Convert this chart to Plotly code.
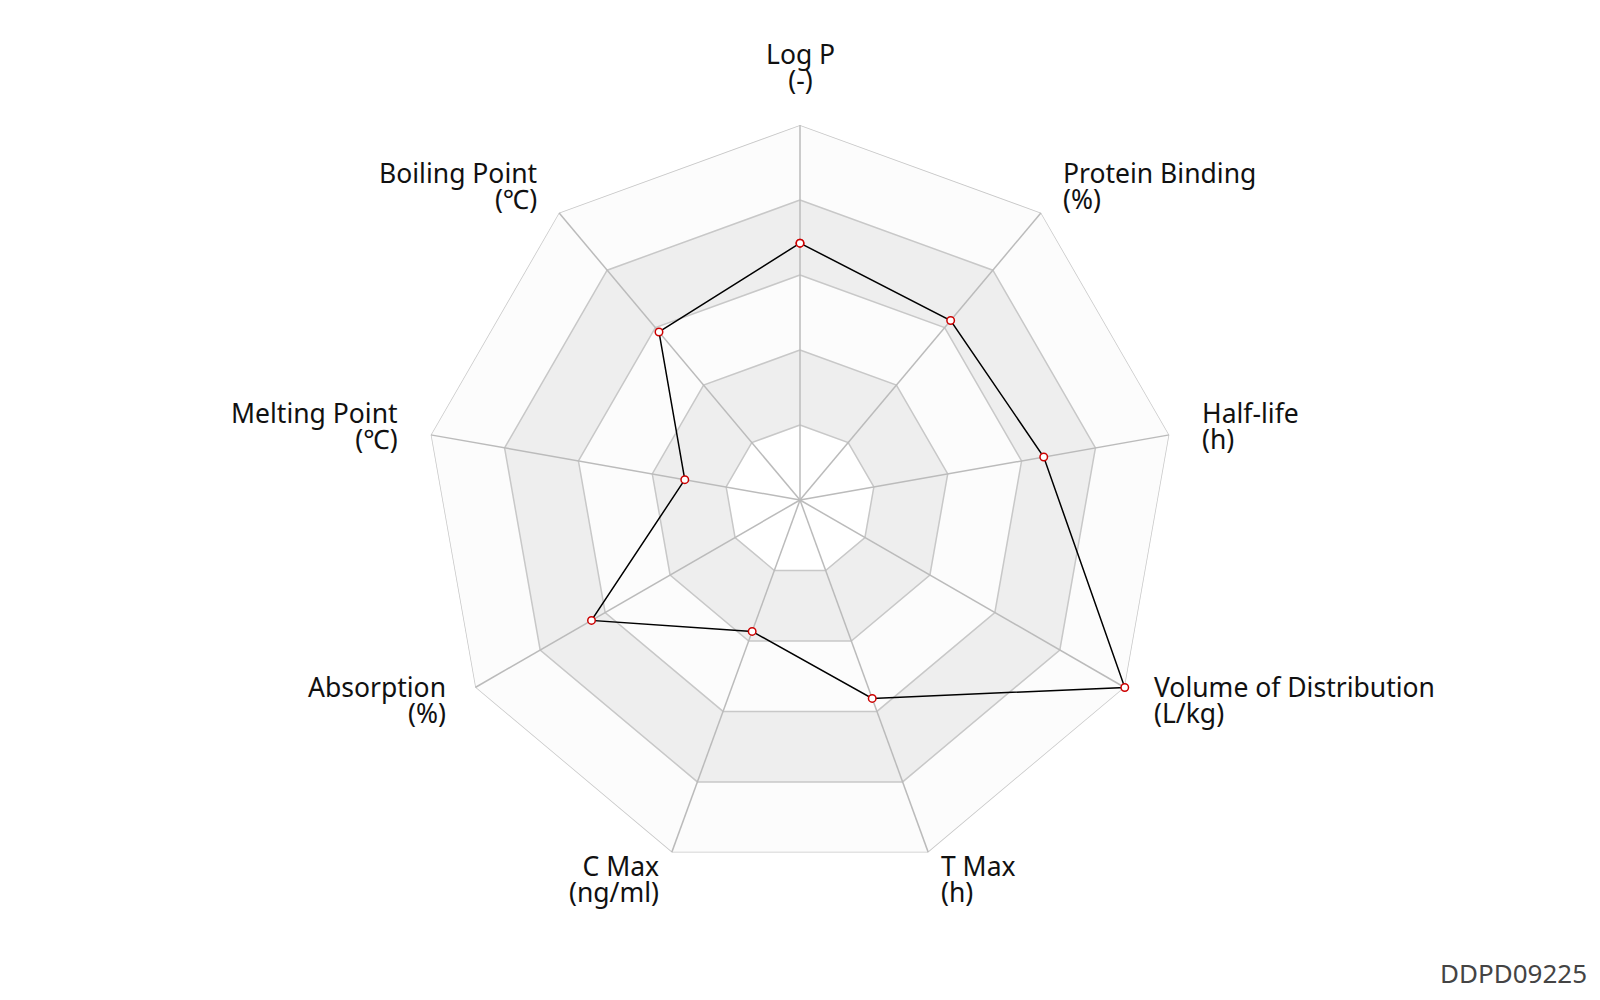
import math
import plotly.graph_objects as go

categories = ["Log P", "Protein Binding", "Half-life", "Volume of Distribution",
              "T Max", "C Max", "Absorption", "Melting Point", "Boiling Point"]
units = ["(-)", "(%)", "(h)", "(L/kg)", "(h)", "(ng/ml)", "(%)", "(℃)", "(℃)"]
values = [0.685, 0.625, 0.66, 1.0, 0.563, 0.373, 0.642, 0.312, 0.585]
ring_levels = [1.0, 0.8, 0.6, 0.4, 0.2]
band_colors = ["#fcfcfc", "#eeeeee", "#fcfcfc", "#eeeeee", "#ffffff"]
watermark = "DDPD09225"

W, H = 1600, 1000
OFF = 8  # page body margin
CX, CY, R = 800, 500, 375  # screen coordinates
FONT = "Noto Sans, Open Sans, sans-serif"


def px2paper(sx, sy):
    return (sx - OFF) / W, 1 - (sy - OFF) / H


fig = go.Figure()
closed = categories + [categories[0]]

# background bands with ring outlines
for lvl, col in zip(ring_levels, band_colors):
    fig.add_trace(go.Scatterpolar(
        r=[lvl] * len(closed), theta=closed, mode="lines", fill="toself",
        fillcolor=col, line=dict(color="#c8c8c8", width=1.5), cliponaxis=False,
        hoverinfo="skip", showlegend=False))

# spokes
sr, st = [], []
for c in categories:
    sr += [0, 1, None]
    st += [c, c, None]
fig.add_trace(go.Scatterpolar(r=sr, theta=st, mode="lines", cliponaxis=False,
                              line=dict(color="#bbbbbb", width=1.5),
                              hoverinfo="skip", showlegend=False))

# data
fig.add_trace(go.Scatterpolar(
    r=values + [values[0]], theta=closed, mode="lines+markers", cliponaxis=False,
    line=dict(color="#000000", width=1.5),
    marker=dict(size=7.5, color="#ffffff", line=dict(color="#cc0000", width=1.5)),
    showlegend=False))

n = len(categories)
LR = R + 31
big = "<span style='font-size:26.5px'>{}</span>"
annotations = []
for i, (c, u) in enumerate(zip(categories, units)):
    ang = math.radians(90 - i * 360 / n)
    px = CX + LR * math.cos(ang)
    py = CY - LR * math.sin(ang)
    cs = math.cos(ang)
    if abs(cs) < 1e-6:
        xa, yc = "center", py - 27.5
    elif cs > 0:
        xa, yc = "left", py - 3
    else:
        xa, yc = "right", py - 3
    xp, yp = px2paper(px, yc)
    annotations.append(dict(
        x=xp, y=yp, xref="paper", yref="paper",
        text=big.format(c) + "<br>" + big.format(u), showarrow=False,
        xanchor=xa, yanchor="middle", align=xa,
        font=dict(size=20, color="#111111", family=FONT)))

xp, yp = px2paper(1589, 973)
annotations.append(dict(
    x=xp, y=yp, xref="paper", yref="paper", text=watermark,
    showarrow=False, xanchor="right", yanchor="middle",
    font=dict(size=26, color="#444444", family=FONT)))

dx0, dy1 = px2paper(CX - R, CY - R)
dx1, dy0 = px2paper(CX + R, CY + R)

fig.update_layout(
    width=W, height=H,
    margin=dict(l=0, r=0, t=0, b=0),
    paper_bgcolor="#ffffff",
    polar=dict(
        domain=dict(x=[dx0, dx1], y=[dy0, dy1]),
        bgcolor="rgba(0,0,0,0)",
        gridshape="linear",
        radialaxis=dict(range=[0, 1], visible=False),
        angularaxis=dict(rotation=90, direction="clockwise", showgrid=False,
                         showline=False, showticklabels=False, ticks=""),
    ),
    annotations=annotations,
)

fig.write_html("out.html")
